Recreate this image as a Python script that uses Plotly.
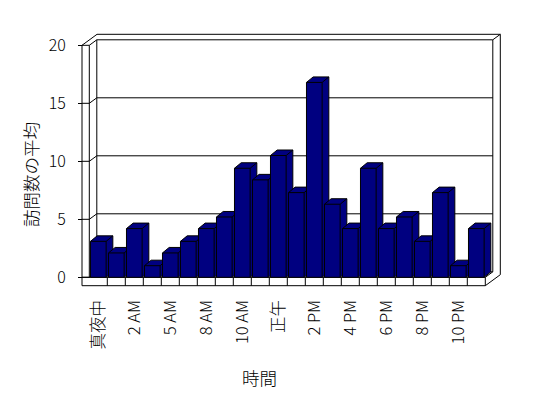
import plotly.graph_objects as go

# ---- data ----
hours = ["真夜中", "1 AM", "2 AM", "4 AM", "5 AM", "7 AM", "8 AM", "9 AM", "10 AM", "11 AM",
         "正午", "1 PM", "2 PM", "3 PM", "4 PM", "5 PM", "6 PM", "7 PM", "8 PM", "9 PM",
         "10 PM", "11 PM"]
visits = [3.1, 2.1, 4.2, 1.0, 2.1, 3.1, 4.2, 5.2, 9.4, 8.4, 10.5,
          7.3, 16.8, 6.3, 4.2, 9.4, 4.2, 5.2, 3.1, 7.3, 1.0, 4.2]
y_ticks = [0, 5, 10, 15, 20]
x_title = "時間"
y_title = "訪問数の平均"

# ---- geometry ----
OFF = 8                     # page body margin
W, H = 548 - OFF, 398 - OFF
L, R, T, B = 40 - OFF, 520 - OFF, 20 - OFF, 300 - OFF
PX_PER_CAT = 18.0
PX_PER_VAL = 11.6
X_ORIGIN_PX = 98.3 - OFF     # pixel of category 0
Y_ORIGIN_PX = 277.3 - OFF    # pixel of value 0
xr = [(L - X_ORIGIN_PX) / PX_PER_CAT, (R - X_ORIGIN_PX) / PX_PER_CAT]
yr = [(Y_ORIGIN_PX - B) / PX_PER_VAL, (Y_ORIGIN_PX - T) / PX_PER_VAL]

n = len(hours)
xL, xR = -0.5, n - 0.5
vB, vT = 0, y_ticks[-1]
wall = 7.3 / PX_PER_CAT
floor_t = 8.4 / PX_PER_VAL
xLo, vBo = xL - wall, vB - floor_t
dx, dy = 7.5 / PX_PER_CAT, 5.5 / PX_PER_VAL     # wall depth
bdx, bdy = 6.7 / PX_PER_CAT, 5.5 / PX_PER_VAL   # bar depth
half = 0.435

NAVY = "#000080"
BLK = "black"
FONT = "Noto Sans CJK JP"

fig = go.Figure()

# bars: front + top + side as filled polygons, drawn left to right
for i, v in enumerate(visits):
    x0, x1 = i - half, i + half
    fig.add_trace(go.Scatter(
        x=[x0, x0, x0 + bdx, x1 + bdx, x1 + bdx, x1, x0],
        y=[0, v, v + bdy, v + bdy, bdy, 0, 0],
        mode="lines", fill="toself", fillcolor=NAVY,
        line=dict(color=BLK, width=1), hoverinfo="skip", showlegend=False))
    fig.add_trace(go.Scatter(
        x=[x0, x1, x1, None, x1, x1 + bdx],
        y=[v, v, 0, None, v, v + bdy],
        mode="lines", line=dict(color=BLK, width=1),
        hoverinfo="skip", showlegend=False))

shapes = []
def seg(xa, ya, xb, yb):
    shapes.append(dict(type="line", xref="x", yref="y", x0=xa, y0=ya, x1=xb, y1=yb,
                       line=dict(color=BLK, width=1), layer="below"))

# back wall gridlines and tick connectors
for t in y_ticks:
    seg(xL + dx, t + dy, xR + dx, t + dy)
    seg(xLo, t, xL, t)
    seg(xL, t, xL + dx, t + dy)
# left wall
seg(xLo, vT, xLo, vBo)
seg(xL, vT, xL, vB)
seg(xL + dx, vT + dy, xL + dx, vB + dy)
seg(xLo, vT, xLo + 2 * dx, vT + 2 * dy)
# top outer edge
seg(xLo + 2 * dx, vT + 2 * dy, xR + 2 * dx, vT + 2 * dy)
# right edges
seg(xR + dx, vT + dy, xR + dx, vB + dy)
seg(xR + 2 * dx, vT + 2 * dy, xR + 2 * dx, vBo + 2 * dy)
seg(xR + dx, vT + dy, xR + 2 * dx, vT + 2 * dy)
# floor
seg(xLo, vB, xR, vB)
seg(xLo, vBo, xR, vBo)
seg(xR, vB, xR + dx, vB + dy)
seg(xR, vBo, xR + 2 * dx, vBo + 2 * dy)
for i in range(n):
    seg(i + 0.5, vB, i + 0.5, vBo)

def px_x(p):
    return (p - OFF - L) / (R - L)

def px_y(p):
    return (B - (p - OFF)) / (B - T)

fig.update_layout(
    width=W, height=H,
    margin=dict(l=L, r=W - R, t=T, b=H - B),
    paper_bgcolor="white", plot_bgcolor="white",
    shapes=shapes,
    showlegend=False,
    font=dict(family=FONT, color="black", weight=300),
    xaxis=dict(range=xr, showgrid=False, zeroline=False, showline=False,
               tickvals=list(range(0, n, 2)), ticktext=hours[::2],
               tickangle=-90, ticks="", anchor="free",
               position=(B - (Y_ORIGIN_PX + 8.4)) / (B - T),
               ticklabelstandoff=10,
               tickfont=dict(size=16.5, family=FONT, weight=300, color="black")),
    yaxis=dict(range=yr, showgrid=False, zeroline=False, showline=False,
               tickvals=y_ticks, ticks="outside", ticklen=4, tickcolor=BLK,
               anchor="free", position=((X_ORIGIN_PX + xLo * PX_PER_CAT) - L) / (R - L),
               ticklabelstandoff=9,
               tickfont=dict(size=16, family=FONT, weight=300, color="black")),
    annotations=[
        dict(text=y_title, xref="paper", yref="paper",
             x=px_x(30), y=px_y(175), xanchor="center", yanchor="middle",
             textangle=-90, showarrow=False, font=dict(size=17.5, weight=300)),
        dict(text=x_title, xref="paper", yref="paper",
             x=px_x(259), y=px_y(377), xanchor="center", yanchor="middle",
             showarrow=False, font=dict(size=17.5, weight=300)),
    ],
)

fig.write_html("out.html")
